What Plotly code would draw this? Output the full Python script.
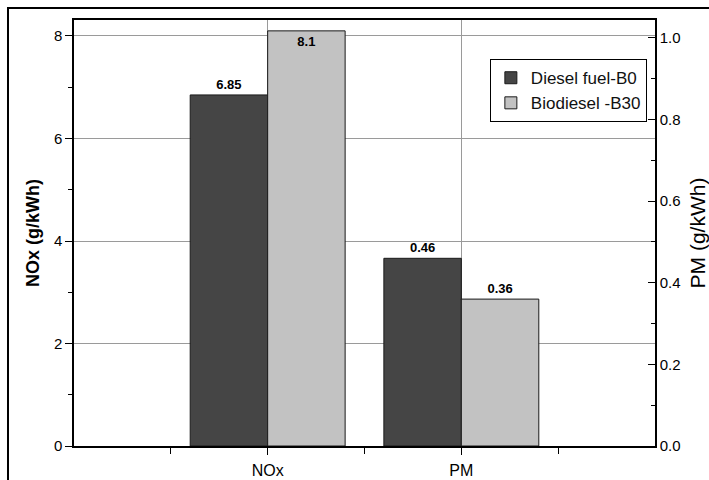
import plotly.graph_objects as go

categories = ["NOx", "PM"]
diesel_b0 = [6.85, 0.46]
biodiesel_b30 = [8.1, 0.36]
diesel_labels = ["6.85", "0.46"]
bio_labels = ["8.1", "0.36"]

FONT = "Liberation Sans, Arial, sans-serif"
DARK = "#454545"
LIGHT = "#c2c2c2"
xpos = list(range(len(categories)))

fig = go.Figure()
axes = ["y", "y2"]
for i, cat in enumerate(categories):
    fig.add_trace(go.Bar(
        x=[xpos[i]], y=[diesel_b0[i]], yaxis=axes[i], name="Diesel fuel-B0",
        legendgroup="b0", showlegend=(i == 0), width=0.4, offset=-0.4,
        marker=dict(color=DARK, line=dict(color="#1a1a1a", width=1)),
        text=[diesel_labels[i]], textposition="outside", cliponaxis=False,
        textfont=dict(family=FONT, size=13, color="black", weight="bold"),
    ))
for i, cat in enumerate(categories):
    pos = "inside" if biodiesel_b30[i] > 7 else "outside"
    fig.add_trace(go.Bar(
        x=[xpos[i]], y=[biodiesel_b30[i]], yaxis=axes[i], name="Biodiesel -B30",
        legendgroup="b30", showlegend=(i == 0), width=0.4, offset=0.0,
        marker=dict(color=LIGHT, line=dict(color="#1a1a1a", width=1)),
        text=[bio_labels[i]], textposition=pos, insidetextanchor="end", cliponaxis=False,
        textfont=dict(family=FONT, size=13, color="black", weight="bold"),
        insidetextfont=dict(family=FONT, size=13, color="black", weight="bold"),
        outsidetextfont=dict(family=FONT, size=13, color="black", weight="bold"),
    ))

fig.update_layout(
    width=709, height=480,
    margin=dict(l=74, r=54, t=20, b=34, autoexpand=False),
    paper_bgcolor="white", plot_bgcolor="white",
    font=dict(family=FONT, size=16, color="black"),
    barmode="overlay",
    uniformtext=dict(minsize=13, mode="show"),
    legend=dict(
        x=0.986, y=0.908, xanchor="right", yanchor="top",
        bgcolor="white", bordercolor="black", borderwidth=1,
        font=dict(family=FONT, size=17, color="#111"),
        traceorder="normal", tracegroupgap=0, itemwidth=30,
    ),
    xaxis=dict(
        range=[-1, 2], tickvals=xpos, ticktext=categories,
        showgrid=True, gridcolor="#9a9a9a", gridwidth=1,
        showline=True, linecolor="black", linewidth=1.5, mirror=True,
        ticks="outside", ticklen=7, tickcolor="black",
        tickfont=dict(size=16), ticklabelstandoff=2,
        minor=dict(tickvals=[-0.5, 0.5, 1.5], ticks="outside", ticklen=6, tickcolor="black", showgrid=False),
        zeroline=False, automargin=False,
    ),
    yaxis=dict(
        range=[0, 8.312], dtick=2, tick0=0,
        showgrid=True, gridcolor="#9a9a9a", gridwidth=1,
        showline=True, linecolor="black", linewidth=1.5,
        ticks="outside", ticklen=7, tickcolor="black",
        tickfont=dict(size=15),
        minor=dict(dtick=1, ticks="outside", ticklen=4, tickcolor="black", showgrid=False),
        title=dict(text="<b>NOx (g/kWh)</b>", font=dict(size=18), standoff=10),
        zeroline=False, automargin=False,
    ),
    yaxis2=dict(
        range=[0, 1.044], dtick=0.2, tick0=0, tickformat=".1f",
        overlaying="y", side="right", anchor="x",
        showgrid=False, showline=True, linecolor="black", linewidth=1.5,
        ticks="inside", ticklen=7, tickcolor="black",
        tickfont=dict(size=15),
        minor=dict(dtick=0.1, ticks="inside", ticklen=4, tickcolor="black", showgrid=False),
        title=dict(text="PM (g/kWh)", font=dict(size=21, color="black"), standoff=12),
        zeroline=False, automargin=False,
    ),
    shapes=[dict(
        type="rect", xref="paper", yref="paper",
        x0=-0.1136, x1=1.2, y0=-0.2, y1=1.0282,
        line=dict(color="black", width=2), fillcolor="rgba(0,0,0,0)", layer="above",
    )],
)

fig.write_html(
    "out.html",
    config={"displayModeBar": False},
    post_script="document.body.style.margin='0';document.body.style.padding='0';document.body.style.overflow='hidden';",
)
